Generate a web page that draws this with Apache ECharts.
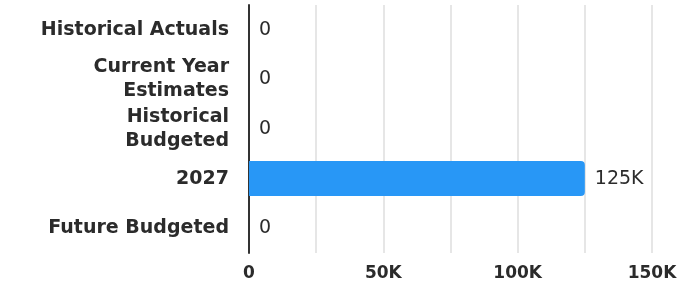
<!DOCTYPE html>
<html>
<head>
<meta charset="utf-8">
<script src="https://cdn.jsdelivr.net/npm/echarts@6/dist/echarts.min.js"></script>
<style>
  html, body { margin: 0; padding: 0; background: #fff; }
  #chart { width: 680px; height: 285px; }
</style>
</head>
<body>
<div id="chart"></div>
<script>
// categories, top to bottom
var categories = ['Historical Actuals', 'Current Year\nEstimates', 'Historical\nBudgeted', '2027', 'Future Budgeted']
var values = [0, 0, 0, 125000, 0]
var xMax = 150000
var xStep = 50000

function fmtK (v) {
  if (v >= 1000) return (v / 1000) + 'K'
  return String(v)
}

var chart = echarts.init(document.getElementById('chart'))
var font = '"DejaVu Sans", sans-serif'

var option = {
  animation: false,
  grid: { left: 249, right: 28, top: 5, bottom: 32, containLabel: false },
  xAxis: {
    type: 'value',
    min: 0,
    max: xMax,
    interval: xStep,
    axisLine: { show: false },
    axisTick: { show: false },
    splitLine: { show: true, lineStyle: { color: '#e6e6e6', width: 2 } },
    minorTick: { show: false, splitNumber: 2 },
    minorSplitLine: { show: true, lineStyle: { color: '#e6e6e6', width: 2 } },
    axisLabel: {
      formatter: fmtK,
      color: '#2b2b2b',
      fontFamily: font,
      fontWeight: 'bold',
      fontSize: 17,
      margin: 12
    }
  },
  yAxis: {
    type: 'category',
    inverse: true,
    data: categories,
    axisLine: { show: true, lineStyle: { color: '#333', width: 2 } },
    axisTick: { show: false },
    splitLine: { show: false },
    axisLabel: {
      color: '#2b2b2b',
      fontFamily: font,
      fontWeight: 'bold',
      fontSize: 19,
      lineHeight: 24,
      margin: 20,
      align: 'right',
      padding: [2, 0, 0, 0]
    }
  },
  series: [{
    type: 'bar',
    data: values,
    barWidth: 35,
    itemStyle: { color: '#2897f6', borderRadius: [0, 4, 4, 0] },
    label: {
      show: true,
      position: 'right',
      distance: 10,
      formatter: function (p) { return fmtK(p.value) },
      color: '#2b2b2b',
      fontFamily: font,
      fontSize: 19,
      padding: [3, 0, 0, 0]
    }
  }]
}
chart.setOption(option)
</script>
</body>
</html>
